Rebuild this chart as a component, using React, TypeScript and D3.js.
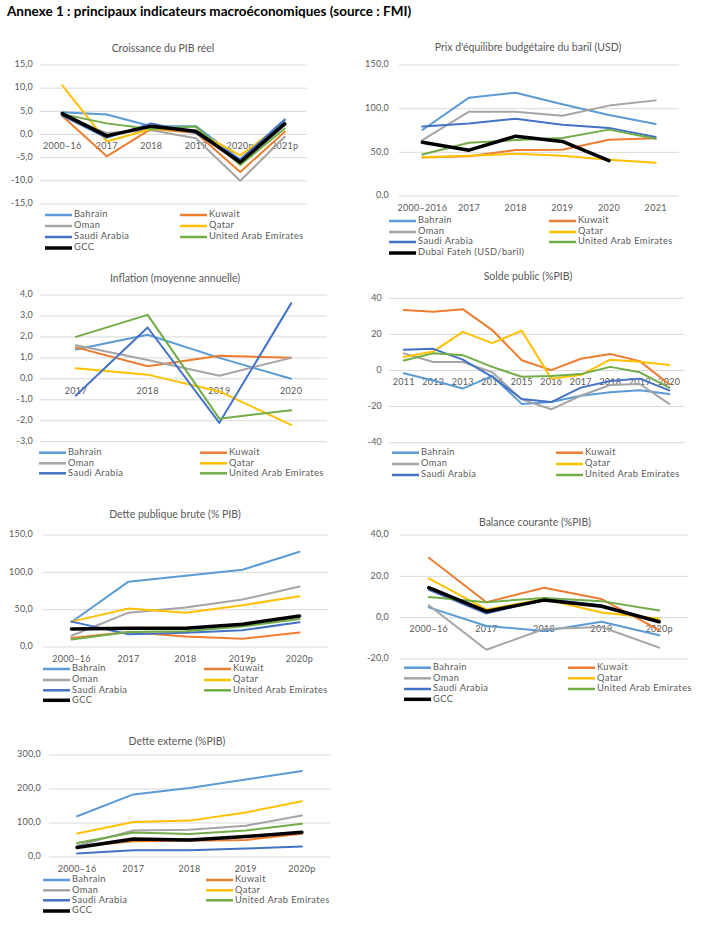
import React from "react";
import * as d3 from "d3";

const COUNTRIES = ["Bahrain", "Kuwait", "Oman", "Qatar", "Saudi Arabia", "United Arab Emirates"];
const COLORS = ["#5B9BD5", "#ED7D31", "#A5A5A5", "#FFC000", "#4472C4", "#70AD47"];

// Panel 1: Croissance du PIB réel
const gdpCats = ["2000–16", "2017", "2018", "2019", "2020p", "2021p"];
const gdpBahrain = [4.8, 4.3, 1.8, 1.8, -5.4, 3.3];
const gdpKuwait = [4.0, -4.7, 1.2, 0.4, -8.1, 0.6];
const gdpOman = [4.3, 0.3, 0.9, -0.8, -10.0, -0.5];
const gdpQatar = [10.6, -1.5, 1.2, 0.8, -4.5, 2.5];
const gdpSaudi = [4.1, -0.7, 2.4, 0.3, -5.4, 3.1];
const gdpUAE = [4.4, 2.4, 1.2, 1.7, -6.6, 1.3];
const gdpGCC = [4.5, -0.3, 1.8, 0.7, -6.0, 2.3];

// Panel 2: Prix d'équilibre budgétaire du baril
const bePriceCats = ["2000–2016", "2017", "2018", "2019", "2020", "2021"];
const beBahrain = [75.6, 112.6, 118.3, 105, 92.7, 82.4];
const beKuwait = [44, 45.5, 52.7, 53, 64.5, 66];
const beOman = [64, 96.5, 96.5, 92, 103.5, 109.5];
const beQatar = [44.3, 46, 48.5, 46, 41.5, 38];
const beSaudi = [79.5, 83, 88.5, 81.5, 78, 67.5];
const beUAE = [47.5, 61, 64, 66.5, 76, 65.5];
const beDubai = [61.5, 52.5, 68.5, 62.5, 40.5, null];

// Panel 3: Inflation
const infCats = ["2017", "2018", "2019", "2020"];
const infBahrain = [1.4, 2.1, 1.0, 0.0];
const infKuwait = [1.5, 0.6, 1.1, 1.0];
const infOman = [1.6, 0.9, 0.15, 1.0];
const infQatar = [0.5, 0.2, -0.6, -2.2];
const infSaudi = [-0.8, 2.45, -2.1, 3.6];
const infUAE = [2.0, 3.05, -1.9, -1.5];

// Panel 4: Solde public
const balCats = ["2011", "2012", "2013", "2014", "2015", "2016", "2017", "2018", "2019", "2020"];
const balBahrain = [-1.5, -5.5, -10, -3, -18.5, -17.5, -14, -12, -11, -13];
const balKuwait = [33.5, 32.5, 34, 22.4, 5.7, 0.2, 6.5, 9.1, 5.2, -7.6];
const balOman = [9.5, 4.7, 4.7, -1, -16, -21.5, -14, -8, -7.5, -18.5];
const balQatar = [7.5, 10.5, 21.4, 15.2, 22, -4.5, -2.5, 6, 4.8, 3];
const balSaudi = [11.5, 12, 6, -3.5, -15.8, -17.5, -9.5, -5.8, -4.5, -11];
const balUAE = [5.5, 9.5, 8.5, 2, -3.5, -3, -2, 2, -1, -9.5];

// Panel 5: Dette publique brute
const debtCats = ["2000–16", "2017", "2018", "2019p", "2020p"];
const debtBahrain = [33.5, 87.5, 95.5, 103.5, 127.5];
const debtKuwait = [12, 20, 14, 11, 19.5];
const debtOman = [15, 46, 53, 63.5, 81];
const debtQatar = [34, 51.5, 46, 56, 68];
const debtSaudi = [34, 17, 19, 22.5, 33];
const debtUAE = [10, 20, 21, 27.5, 37.5];
const debtGCC = [24, 25, 25, 30.5, 41.5];

// Panel 6: Balance courante
const caCats = ["2000–16", "2017", "2018", "2019", "2020p"];
const caBahrain = [5, -4, -6.5, -2, -8.5];
const caKuwait = [29, 7.5, 14.5, 9, -6];
const caOman = [6, -15.5, -5.5, -4.5, -14.5];
const caQatar = [19, 4, 9, 2.5, -0.5];
const caSaudi = [13.5, 2, 9, 6, -2];
const caUAE = [10, 7.5, 9.5, 8, 3.5];
const caGCC = [14.5, 3, 8.5, 5.5, -2];

// Panel 7: Dette externe
const extCats = ["2000–16", "2017", "2018", "2019", "2020p"];
const extBahrain = [120, 184, 203, 228, 253];
const extKuwait = [30, 46, 48, 50, 68];
const extOman = [33, 78, 80, 92, 122];
const extQatar = [69, 103, 107, 131, 164];
const extSaudi = [10, 20, 20, 25, 31];
const extUAE = [41, 72, 68, 78, 98];
const extGCC = [28, 53, 50, 60, 73];

const FONT = "Lato, 'Open Sans', sans-serif";
const GREY = "#595959";

type Series = { name: string; color: string; values: (number | null)[]; width: number };

type PanelProps = {
  title: string;
  titleX: number;
  titleY: number;
  cats: string[];
  series: Series[];
  domain: [number, number];
  step: number;
  decimals: number;
  x0: number;
  x1: number;
  yTop: number;
  yBot: number;
  tickX: number;
  rows: number[];
  col1: number;
  col2: number;
};

function Panel(p: PanelProps) {
  const x = d3.scaleBand<string>().domain(p.cats).range([p.x0, p.x1]);
  const y = d3.scaleLinear().domain(p.domain).range([p.yBot, p.yTop]);
  const ticks = d3.range(p.domain[0], p.domain[1] + p.step / 2, p.step);
  const fmt = (v: number) => v.toFixed(p.decimals).replace(".", ",");
  const line = d3
    .line<number | null>()
    .defined((d) => d !== null)
    .x((_, i) => (x(p.cats[i]) as number) + x.bandwidth() / 2)
    .y((d) => y(d as number));
  const y0 = y(Math.max(p.domain[0], 0));
  return (
    <g>
      <text x={p.titleX} y={p.titleY} textAnchor="middle" dominantBaseline="middle" fontSize={10.5} fill={GREY}>
        {p.title}
      </text>
      {ticks.map((t) => (
        <g key={t}>
          <line x1={p.x0} x2={p.x1} y1={y(t)} y2={y(t)} stroke="#D9D9D9" strokeWidth={1} />
          <text
            x={p.tickX}
            y={y(t)}
            textAnchor="end"
            dominantBaseline="middle"
            fontSize={9}
            letterSpacing={0.2}
            fill={GREY}
          >
            {fmt(t)}
          </text>
        </g>
      ))}
      {p.cats.map((c) => (
        <text
          key={c}
          x={(x(c) as number) + x.bandwidth() / 2}
          y={y0 + 12.5}
          textAnchor="middle"
          dominantBaseline="middle"
          fontSize={9}
          letterSpacing={0.3}
          fill={GREY}
        >
          {c}
        </text>
      ))}
      {p.series.map((s) => (
        <path
          key={s.name}
          d={line(s.values) || ""}
          fill="none"
          stroke={s.color}
          strokeWidth={s.width}
          strokeLinejoin="round"
          strokeLinecap="round"
        />
      ))}
      {p.series.map((s, i) => {
        const row = Math.floor(i / 2);
        const cx = i % 2 === 0 ? p.col1 : p.col2;
        const ry = p.rows[row];
        return (
          <g key={"lg" + s.name}>
            <line x1={cx} x2={cx + 27} y1={ry} y2={ry} stroke={s.color} strokeWidth={s.width > 3 ? 3.5 : 2.5} />
            <text
              x={cx + 29}
              y={ry}
              dominantBaseline="middle"
              fontSize={9.3}
              letterSpacing={0.4}
              fill={GREY}
            >
              {s.name}
            </text>
          </g>
        );
      })}
    </g>
  );
}

function mk(vals: (number | null)[][], extra?: { name: string; values: (number | null)[] }): Series[] {
  const s: Series[] = COUNTRIES.map((n, i) => ({ name: n, color: COLORS[i], values: vals[i], width: 2 }));
  if (extra) s.push({ name: extra.name, color: "#000000", values: extra.values, width: 3.5 });
  return s;
}

export default function App() {
  return (
    <svg
      width={713}
      height={936}
      style={{ position: "absolute", left: 0, top: 0, background: "#fff", fontFamily: FONT }}
    >
      <rect width={713} height={936} fill="#fff" />
      <text x={7} y={16} fontSize={13.5} fontWeight="bold" fill="#000">
        Annexe 1 : principaux indicateurs macroéconomiques (source : FMI)
      </text>
      <Panel
        title="Croissance du PIB réel"
        titleX={163}
        titleY={49}
        cats={gdpCats}
        series={mk([gdpBahrain, gdpKuwait, gdpOman, gdpQatar, gdpSaudi, gdpUAE], { name: "GCC", values: gdpGCC })}
        domain={[-15, 15]}
        step={5}
        decimals={1}
        x0={40}
        x1={307}
        yTop={65}
        yBot={204}
        tickX={33}
        rows={[215, 226, 237, 248]}
        col1={45}
        col2={180}
      />
      <Panel
        title="Prix d'équilibre budgétaire du baril (USD)"
        titleX={528}
        titleY={48}
        cats={bePriceCats}
        series={mk([beBahrain, beKuwait, beOman, beQatar, beSaudi, beUAE], {
          name: "Dubai Fateh (USD/baril)",
          values: beDubai,
        })}
        domain={[0, 150]}
        step={50}
        decimals={1}
        x0={399}
        x1={679}
        yTop={65}
        yBot={196}
        tickX={389}
        rows={[221, 232, 242, 253]}
        col1={389}
        col2={549}
      />
      <Panel
        title="Inflation (moyenne annuelle)"
        titleX={175}
        titleY={279}
        cats={infCats}
        series={mk([infBahrain, infKuwait, infOman, infQatar, infSaudi, infUAE])}
        domain={[-3, 4]}
        step={1}
        decimals={1}
        x0={40}
        x1={327}
        yTop={295}
        yBot={441.7}
        tickX={33}
        rows={[452.7, 463.3, 473.3]}
        col1={39}
        col2={200}
      />
      <Panel
        title="Solde public (%PIB)"
        titleX={528}
        titleY={277}
        cats={balCats}
        series={mk([balBahrain, balKuwait, balOman, balQatar, balSaudi, balUAE])}
        domain={[-40, 40]}
        step={20}
        decimals={0}
        x0={389}
        x1={684}
        yTop={298.3}
        yBot={442.7}
        tickX={382}
        rows={[452.7, 464, 475]}
        col1={392}
        col2={556}
      />
      <Panel
        title="Dette publique brute (% PIB)"
        titleX={175}
        titleY={515.7}
        cats={debtCats}
        series={mk([debtBahrain, debtKuwait, debtOman, debtQatar, debtSaudi, debtUAE], {
          name: "GCC",
          values: debtGCC,
        })}
        domain={[0, 150]}
        step={50}
        decimals={1}
        x0={43}
        x1={328}
        yTop={535}
        yBot={647}
        tickX={33}
        rows={[669, 680, 690.3, 700.3]}
        col1={43}
        col2={204}
      />
      <Panel
        title="Balance courante (%PIB)"
        titleX={535}
        titleY={523}
        cats={caCats}
        series={mk([caBahrain, caKuwait, caOman, caQatar, caSaudi, caUAE], { name: "GCC", values: caGCC })}
        domain={[-20, 40]}
        step={20}
        decimals={1}
        x0={400}
        x1={688}
        yTop={535}
        yBot={659}
        tickX={389}
        rows={[667.7, 678.3, 689, 699.3]}
        col1={404}
        col2={568}
      />
      <Panel
        title="Dette externe (%PIB)"
        titleX={177}
        titleY={742.7}
        cats={extCats}
        series={mk([extBahrain, extKuwait, extOman, extQatar, extSaudi, extUAE], { name: "GCC", values: extGCC })}
        domain={[0, 300]}
        step={100}
        decimals={1}
        x0={49}
        x1={330}
        yTop={755}
        yBot={857}
        tickX={41}
        rows={[880, 890.3, 900.3, 911]}
        col1={43}
        col2={206}
      />
    </svg>
  );
}
